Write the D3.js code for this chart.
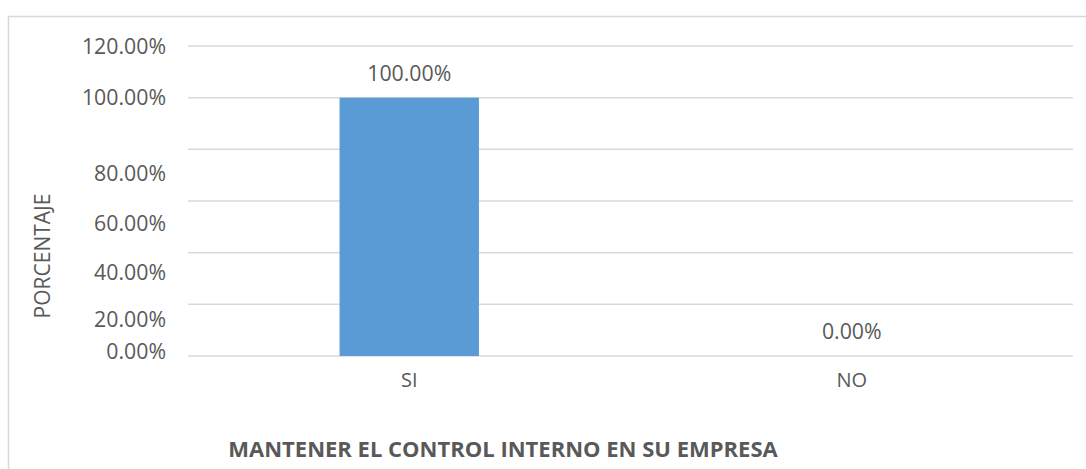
<!DOCTYPE html>
<html>
<head>
<meta charset="utf-8">
<script src="https://cdn.jsdelivr.net/npm/d3@7"></script>
<style>
  body { margin: 0; background: #fff; }
  text { font-family: "Open Sans", sans-serif; fill: #595959; }
</style>
</head>
<body>
<script>
// datos del gráfico
const categories = ['SI', 'NO']
const values = [1.0, 0.0]
const tickValues = [0, 0.2, 0.4, 0.6, 0.8, 1.0, 1.2]
const title = 'MANTENER EL CONTROL INTERNO EN SU EMPRESA'
const yTitle = 'PORCENTAJE'

const width = 1086, height = 469
const margin = {top: 46, right: 13, bottom: 113, left: 188}

const svg = d3.select('body').append('svg').attr('width', width).attr('height', height)

// marco del área del gráfico (se sale por la derecha y abajo)
svg.append('rect')
    .attr('x', 8.5).attr('y', 16.5)
    .attr('width', width + 20).attr('height', height + 20)
    .attr('fill', 'none').attr('stroke', '#d9d9d9').attr('stroke-width', 1.5)

const x = d3.scaleBand(categories, [margin.left, width - margin.right])
const y = d3.scaleLinear([0, 1.2], [height - margin.bottom, margin.top])
const fmt = d3.format('.2%')

// líneas de cuadrícula
svg.append('g')
    .selectAll('line')
    .data(tickValues)
    .join('line')
    .attr('x1', margin.left).attr('x2', width - margin.right)
    .attr('y1', d => y(d)).attr('y2', d => y(d))
    .attr('stroke', '#d9d9d9').attr('stroke-width', 1.5)

// eje y, las etiquetas en Excel quedaron algo desplazadas
const labelShift = [-5, 15, 20, 22, 24, 0, 0]
const yAxis = svg.append('g')
    .attr('transform', `translate(${margin.left - 22},0)`)
    .call(d3.axisLeft(y).tickValues(tickValues).tickFormat(fmt).tickSize(0).tickPadding(0))
yAxis.select('.domain').remove()
yAxis.selectAll('text')
    .attr('dy', (d, i) => (0.34 * 21 + labelShift[i]) + 'px')
    .style('font-size', '21.3px')

// barras
const barW = x.bandwidth() * 0.315
svg.append('g')
    .selectAll('rect')
    .data(values)
    .join('rect')
    .attr('x', (d, i) => x(categories[i]) + x.bandwidth() / 2 - barW / 2)
    .attr('y', d => y(d))
    .attr('width', barW)
    .attr('height', d => y(0) - y(d))
    .attr('fill', '#5b9bd5')

// etiquetas de datos
svg.append('g')
    .selectAll('text')
    .data(values)
    .join('text')
    .attr('x', (d, i) => x(categories[i]) + x.bandwidth() / 2)
    .attr('y', d => y(d) - 17)
    .attr('text-anchor', 'middle')
    .style('font-size', '21.3px')
    .text(d => fmt(d))

// eje x
const xAxis = svg.append('g')
    .attr('transform', `translate(0,${y(0)})`)
    .call(d3.axisBottom(x).tickSize(0).tickPadding(17))
xAxis.select('.domain').remove()
xAxis.selectAll('text').style('font-size', '20px').attr('font-family', null)

// títulos
svg.append('text')
    .attr('x', 503).attr('y', 457)
    .attr('text-anchor', 'middle')
    .style('font-size', '22px').style('font-weight', 'bold')
    .text(title)

svg.append('text')
    .attr('transform', 'translate(50,256) rotate(-90)')
    .attr('text-anchor', 'middle')
    .style('font-size', '21px')
    .text(yTitle)
</script>
</body>
</html>
